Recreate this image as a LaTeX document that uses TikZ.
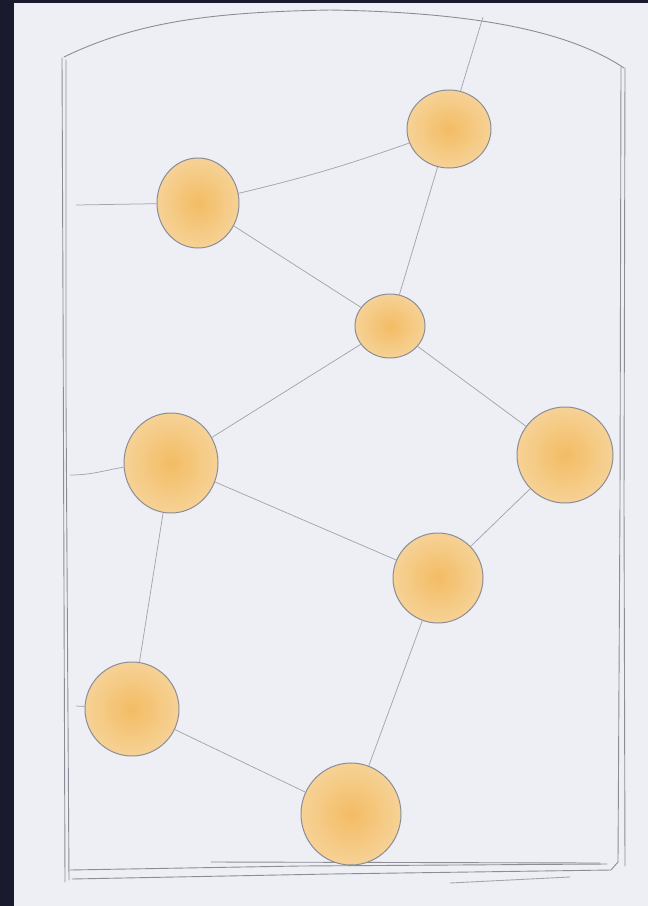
\documentclass[tikz,border=0pt]{standalone}
\usetikzlibrary{shapes.geometric}
\definecolor{bgdark}{RGB}{26,26,46}
\definecolor{paper}{RGB}{238,239,244}
\definecolor{pencil}{RGB}{140,140,150}
\definecolor{pencillight}{RGB}{165,165,175}
\definecolor{orangefill}{RGB}{246,210,150}
\definecolor{orangedeep}{RGB}{243,188,100}
\tikzset{
  ball/.style={ellipse, draw=pencil, line width=1pt, inner sep=0pt,
    inner color=orangedeep, outer color=orangefill},
  link/.style={draw=pencillight, line width=0.75pt},
  frameline/.style={draw=pencil, line width=0.9pt, line cap=round, line join=round}
}
\begin{document}
\begin{tikzpicture}[x=1pt,y=-1pt]
\useasboundingbox (0,0) rectangle (648,906);
\fill[bgdark] (0,0) rectangle (648,906);
\fill[paper] (14,3) rectangle (648,906);

% frame
\draw[frameline] (64,57) .. controls (140,20) and (220,12) .. (330,10)
                 .. controls (450,12) and (560,25) .. (624,68);
\draw[frameline] (62,58) -- (63,300) -- (65,882);
\draw[frameline] (66,60) -- (66,400) -- (69,880);
\draw[frameline] (621,67) -- (620,500) -- (618,862);
\draw[frameline] (625,68) -- (624,500) -- (625,866);
\draw[frameline] (70,870) -- (300,866) -- (607,864);
\draw[frameline] (72,879) -- (330,874) -- (611,870) -- (618,862);
\draw[frameline] (211,862) -- (600,863);
\draw[frameline, draw=pencillight] (450,883) -- (570,877);

% balls
\node[ball, minimum width=84pt, minimum height=78pt]  (c1) at (449,129) {};
\node[ball, minimum width=82pt, minimum height=90pt]  (c2) at (198,203) {};
\node[ball, minimum width=70pt, minimum height=64pt]  (c3) at (390,326) {};
\node[ball, minimum width=94pt, minimum height=100pt] (c4) at (171,463) {};
\node[ball, minimum width=96pt, minimum height=96pt]  (c5) at (565,455) {};
\node[ball, minimum width=90pt, minimum height=90pt]  (c6) at (438,578) {};
\node[ball, minimum width=94pt, minimum height=94pt]  (c7) at (132,709) {};
\node[ball, minimum width=100pt, minimum height=102pt](c8) at (351,814) {};

% free ends on the frame
\coordinate (top) at (483,17);
\coordinate (l2) at (76,205);
\coordinate (l4) at (70,475);
\coordinate (l7) at (76,706);

% links
\draw[link] (top) -- (c1);
\draw[link] (c1) to[bend left=3] (c2);
\draw[link] (l2) -- (c2);
\draw[link] (c2) -- (c3);
\draw[link] (c1) -- (c3);
\draw[link] (c3) -- (c4);
\draw[link] (c3) -- (c5);
\draw[link] (l4) to[out=0,in=190] (c4.185);
\draw[link] (c4) -- (c6);
\draw[link] (c5) -- (c6);
\draw[link] (c4) -- (c7);
\draw[link] (l7) -- (c7);
\draw[link] (c7) -- (c8);
\draw[link] (c6) -- (c8);
\end{tikzpicture}
\end{document}
